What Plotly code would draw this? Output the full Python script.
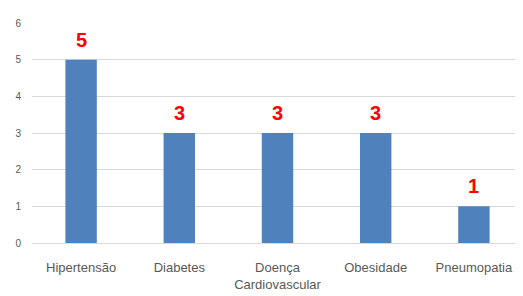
import plotly.graph_objects as go

categories = ["Hipertensão", "Diabetes", "Doença<br>Cardiovascular", "Obesidade", "Pneumopatia"]
values = [5, 3, 3, 3, 1]
y_ticks = [0, 1, 2, 3, 4, 5, 6]

fig = go.Figure()
fig.add_trace(go.Bar(
    x=categories, y=values,
    marker=dict(color="#4f81bd", line=dict(width=0)),
    width=0.32,
))
for c, v in zip(categories, values):
    fig.add_annotation(
        x=c, y=v, text=f"<b>{v}</b>", showarrow=False,
        yanchor="bottom", yshift=7,
        font=dict(color="#ff0000", size=20, family="Liberation Sans"),
    )

# page body has an 8px default margin; size the figure to fit the window
fig.update_layout(
    width=515, height=288,
    margin=dict(l=24, r=0, t=15, b=53),
    paper_bgcolor="white", plot_bgcolor="white",
    showlegend=False,
    font=dict(family="Liberation Sans", color="#595959"),
)
fig.update_xaxes(
    showgrid=False, showline=True, linecolor="#d9d9d9", linewidth=1,
    tickfont=dict(size=13, color="#595959"), ticks="",
    automargin=False, ticklabelstandoff=12,
)
fig.update_yaxes(
    range=[0, 6], tickvals=y_ticks, showgrid=True, gridcolor="#d9d9d9",
    zeroline=False, showline=False, ticks="",
    tickfont=dict(size=10, color="#595959"), ticklabelstandoff=10,
    automargin=False,
)
fig.write_html("out.html")
